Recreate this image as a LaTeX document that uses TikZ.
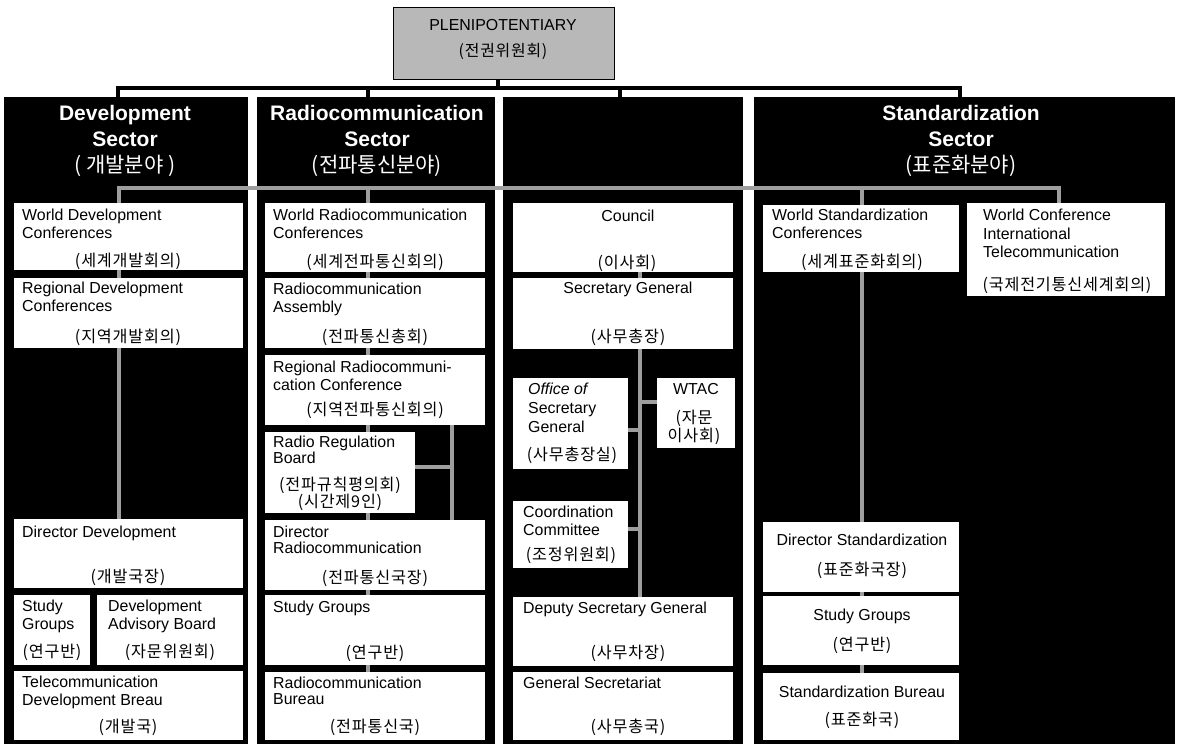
\documentclass[tikz,border=0pt]{standalone}
\usepackage{fontspec}
\setmainfont{Liberation Sans}
\newfontfamily\ko[LetterSpace=5]{Noto Sans CJK KR}
\newfontfamily\kohd{Noto Sans CJK KR}
\pgfdeclarelayer{bottom}
\pgfdeclarelayer{lines}
\pgfsetlayers{bottom,lines,main}
\tikzset{
 dark/.style={fill=black, draw=none, inner sep=0pt, outer sep=0pt, anchor=north west},
 wbox/.style={fill=white, draw=none, inner sep=0pt, outer sep=0pt, anchor=north west},
 en/.style={font=\fontsize{15.9}{18}\selectfont, inner sep=0pt, align=left, anchor=north west},
 enc/.style={font=\fontsize{15.9}{18}\selectfont, inner sep=0pt, align=center},
 kr/.style={font=\ko\fontsize{16.2}{16}\selectfont, inner sep=0pt, align=center},
 hd/.style={text=white, inner sep=0pt, align=center, anchor=north, font=\bfseries\fontsize{21}{26}\selectfont},
 gline/.style={draw=black!38, line width=4pt},
 bar/.style={draw=black, line width=4pt},
 pleni/.style={fill=black!28, draw=black, line width=1.2pt, inner sep=0pt, anchor=north west},
}
\newcommand\wb[5]{\node[wbox, minimum width={#4-#2}, minimum height={#5-#3}] (#1) at (#2,#3) {};}
\newcommand\dk[5]{\node[dark, minimum width={#4-#2}, minimum height={#5-#3}] (#1) at (#2,#3) {};}
\begin{document}
\begin{tikzpicture}[x=1pt,y=-1pt]
\useasboundingbox (0,0) rectangle (1179,746);
\begin{pgfonlayer}{bottom}
\fill[white] (0,0) rectangle (1179,746);
\dk{dev}{4}{97}{248}{744}
\dk{rad}{257}{97}{495}{744}
\dk{mid}{503}{97}{743}{744}
\dk{std}{754}{97}{1175}{744}
\end{pgfonlayer}
% headers
\node[hd] (dev-h) at (125,105) {Development\\Sector\\{\kohd\mdseries ( 개발분야 )}};
\node[hd] (rad-h) at (377,105) {Radiocommunication\\Sector\\{\kohd\mdseries (전파통신분야)}};
\node[hd] (std-h) at (961,105) {Standardization\\Sector\\{\kohd\mdseries (표준화분야)}};
% white boxes
\wb{wdc}{14}{203}{243}{270}
\wb{rdc}{14}{278}{243}{348}
\wb{dd}{14}{519}{243}{588}
\wb{sga}{14}{595}{90}{665}
\wb{dab}{97}{595}{243}{665}
\wb{tdb}{14}{671}{243}{740}
\wb{wrc}{265}{203}{485}{272}
\wb{ra}{265}{278}{485}{348}
\wb{rrc}{265}{355}{485}{425}
\wb{rrb}{265}{432}{415}{513}
\wb{dr}{265}{520}{485}{590}
\wb{sgb}{265}{595}{485}{665}
\wb{rb}{265}{672}{485}{740}
\wb{council}{513}{203}{733}{272}
\wb{secgen}{513}{278}{733}{349}
\wb{osg}{513}{378}{628}{469}
\wb{wtac}{657}{378}{735}{448}
\wb{cc}{513}{501}{628}{568}
\wb{dsg}{513}{597}{733}{666}
\wb{gs}{513}{672}{733}{740}
\wb{wsc}{763}{205}{959}{272}
\wb{wcit}{967}{203}{1165}{296}
\wb{ds}{763}{522}{959}{592}
\wb{sgc}{763}{596}{959}{665}
\wb{sb}{763}{673}{959}{740}
% gray connectors, behind the white boxes
\coordinate (bw) at (119,188);
\coordinate (be) at (1059,188);
\coordinate (br) at (368,188);
\coordinate (bs) at (862,188);
\coordinate (rk) at (452,467);
\coordinate (m1) at (640,402);
\coordinate (m2) at (640,430);
\coordinate (m3) at (640,529);
\begin{pgfonlayer}{lines}
\draw[gline] (dd.north -| bw) -- (bw) -- (be) -- (wcit.north -| be);
\draw[gline] (br) -- (rb.north -| br);
\draw[gline] (council.south -| m1) -- (dsg.north -| m1);
\draw[gline] (bs) -- (sb.north -| bs);
\draw[gline] (rrc.south -| rk) -- (dr.north -| rk);
\draw[gline] (rrb.east |- rk) -- (rk);
\draw[gline] (m1) -- (wtac.west |- m1);
\draw[gline] (osg.east |- m2) -- (m2);
\draw[gline] (cc.east |- m3) -- (m3);
\end{pgfonlayer}
% texts: development
\node[en] (wdc-e) at (22,209) {World Development\\Conferences};
\node[kr] (wdc-k) at (128,261) {(세계개발회의)};
\node[en] (rdc-e) at (22,282) {Regional Development\\Conferences};
\node[kr] (rdc-k) at (128,337) {(지역개발회의)};
\node[en] (dd-e) at (22,526) {Director Development};
\node[kr] (dd-k) at (128,577) {(개발국장)};
\node[en] (sga-e) at (22,600) {Study\\Groups};
\node[kr] (sga-k) at (52,652) {(연구반)};
\node[en] (dab-e) at (108,600) {Development\\Advisory Board};
\node[kr] (dab-k) at (170,652) {(자문위원회)};
\node[en] (tdb-e) at (22,676) {Telecommunication\\Development Breau};
\node[kr] (tdb-k) at (128,727) {(개발국)};
% texts: radiocommunication
\node[en] (wrc-e) at (273,209) {World Radiocommunication\\Conferences};
\node[kr] (wrc-k) at (375,262) {(세계전파통신회의)};
\node[en] (ra-e) at (273,283) {Radiocommunication\\Assembly};
\node[kr] (ra-k) at (375,337) {(전파통신총회)};
\node[en] (rrc-e) at (273,361) {Regional Radiocommuni-\\cation Conference};
\node[kr] (rrc-k) at (375,410) {(지역전파통신회의)};
\node[en, font=\fontsize{15.9}{15.5}\selectfont] (rrb-e) at (273,436) {Radio Regulation\\Board};
\node[kr, font=\ko\fontsize{16.2}{17}\selectfont] (rrb-k) at (340,493.5) {(전파규칙평의회)\\(시간제9인)};
\node[en, font=\fontsize{15.9}{16}\selectfont] (dr-e) at (273,526) {Director\\Radiocommunication};
\node[kr] (dr-k) at (375,578) {(전파통신국장)};
\node[en] (sgb-e) at (273,601) {Study Groups};
\node[kr] (sgb-k) at (375,653) {(연구반)};
\node[en, font=\fontsize{15.9}{15.5}\selectfont] (rb-e) at (273,677) {Radiocommunication\\Bureau};
\node[kr] (rb-k) at (375,727) {(전파통신국)};
% texts: general secretariat column
\node[enc] (council-e) at (628,216) {Council};
\node[kr] (council-k) at (627,263) {(이사회)};
\node[enc] (secgen-e) at (628,289) {Secretary General};
\node[kr] (secgen-k) at (628,337) {(사무총장)};
\node[en, font=\fontsize{15.9}{19}\selectfont] (osg-e) at (528,383) {\textit{Office of}\\Secretary\\General};
\node[kr] (osg-k) at (572,455) {(사무총장실)};
\node[enc] (wtac-e) at (696,389) {WTAC};
\node[kr, font=\ko\fontsize{16.2}{15}\selectfont] (wtac-k) at (694,427.5) {(자문\\이사회)};
\node[en] (cc-e) at (523,506) {Coordination\\Committee};
\node[kr] (cc-k) at (571,555) {(조정위원회)};
\node[en] (dsg-e) at (523,602) {Deputy Secretary General};
\node[kr] (dsg-k) at (628,653) {(사무차장)};
\node[en] (gs-e) at (523,677) {General Secretariat};
\node[kr] (gs-k) at (628,727) {(사무총국)};
% texts: standardization
\node[en] (wsc-e) at (772,209) {World Standardization\\Conferences};
\node[kr] (wsc-k) at (862,262) {(세계표준화회의)};
\node[en, font=\fontsize{15.9}{18.5}\selectfont] (wcit-e) at (983,209) {World Conference\\International\\Telecommunication};
\node[kr] (wcit-k) at (1067,285) {(국제전기통신세계회의)};
\node[enc] (ds-e) at (862,540) {Director Standardization};
\node[kr] (ds-k) at (862,570) {(표준화국장)};
\node[enc] (sgc-e) at (862,616) {Study Groups};
\node[kr] (sgc-k) at (862,645) {(연구반)};
\node[enc] (sb-e) at (862,692) {Standardization Bureau};
\node[kr] (sb-k) at (862,720) {(표준화국)};
% plenipotentiary and black tree
\node[pleni, minimum width=221, minimum height=72] (pl) at (393,7) {};
\node[align=center, inner sep=0pt, font=\fontsize{15.9}{26}\selectfont] (pl-t) at (503,40) {PLENIPOTENTIARY\\{\ko (전권위원회)}};
\coordinate (p0) at (498,88);
\coordinate (t1) at (118,88);
\coordinate (t2) at (368,88);
\coordinate (t3) at (620,88);
\coordinate (t4) at (960,88);
\draw[bar] (pl.south -| p0) -- (p0);
\draw[bar] (dev.north -| t1) -- (t1) -- (t4) -- (std.north -| t4);
\draw[bar] (t2) -- (rad.north -| t2);
\draw[bar] (t3) -- (mid.north -| t3);
\end{tikzpicture}
\end{document}
